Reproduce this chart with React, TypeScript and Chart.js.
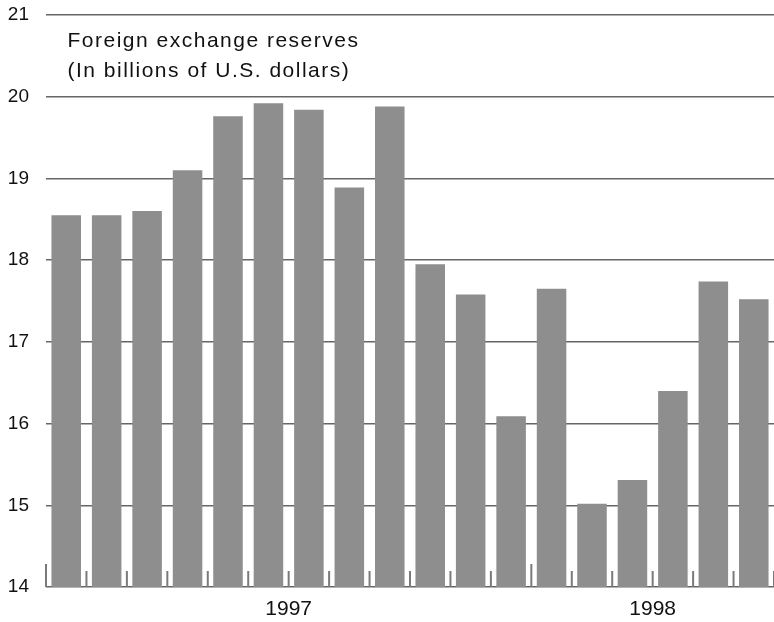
import React, { useEffect, useRef } from "react";
import { Chart, registerables } from "chart.js";

Chart.register(...registerables);

const months = [
  "Jan 1997", "Feb 1997", "Mar 1997", "Apr 1997", "May 1997", "Jun 1997",
  "Jul 1997", "Aug 1997", "Sep 1997", "Oct 1997", "Nov 1997", "Dec 1997",
  "Jan 1998", "Feb 1998", "Mar 1998", "Apr 1998", "May 1998", "Jun 1998",
];
const reserves = [
  18.55, 18.55, 18.6, 19.1, 19.76, 19.92, 19.84, 18.89, 19.88,
  17.95, 17.58, 16.09, 17.65, 15.02, 15.31, 16.4, 17.74, 17.52,
];
const yearLabels = ["1997", "1998"];
const yearStarts = [0, 12];
const yearCounts = [12, 6];
const titleLines = ["Foreign exchange reserves", "(In billions of U.S. dollars)"];
const yMin = 14;
const yMax = 21;

const FONT = "'Liberation Sans', Arial, Helvetica, sans-serif";

const decorPlugin = {
  id: "decor",
  afterDatasetsDraw(chart: any) {
    const { ctx, chartArea } = chart;
    const xs = chart.scales.x;
    const p0 = xs.getPixelForValue(0);
    const slot = xs.getPixelForValue(1) - p0;
    const start = p0 - slot / 2;
    const bottom = chartArea.bottom;
    ctx.save();
    // tick marks between bars
    ctx.strokeStyle = "#7a7a7a";
    ctx.lineWidth = 2;
    for (let i = 0; i <= months.length; i++) {
      const x = start + i * slot;
      const long = yearStarts.includes(i);
      const len = long ? 23 : 16;
      ctx.beginPath();
      ctx.moveTo(x, bottom);
      ctx.lineTo(x, bottom - len);
      ctx.stroke();
    }
    // year labels
    ctx.fillStyle = "#111";
    ctx.font = `21px ${FONT}`;
    ctx.textAlign = "center";
    ctx.textBaseline = "middle";
    yearLabels.forEach((lab, k) => {
      const a = start + yearStarts[k] * slot;
      const b = start + (yearStarts[k] + yearCounts[k]) * slot;
      ctx.fillText(lab, (a + b) / 2, bottom + 22);
    });
    // title
    ctx.textAlign = "left";
    ctx.textBaseline = "alphabetic";
    ctx.font = `21px ${FONT}`;
    try {
      (ctx as any).letterSpacing = "1.5px";
    } catch (e) {}
    titleLines.forEach((t, k) => {
      ctx.fillText(t, chartArea.left + 21.5, chartArea.top + 32.3 + k * 29.5);
    });
    ctx.restore();
  },
};

export default function App() {
  const ref = useRef<HTMLCanvasElement>(null);
  useEffect(() => {
    if (!ref.current) return;
    const chart = new Chart(ref.current, {
      type: "bar",
      data: {
        labels: months,
        datasets: [
          {
            data: reserves,
            backgroundColor: "#8e8e8e",
            borderWidth: 0,
            barPercentage: 0.73,
            categoryPercentage: 1,
          },
        ],
      },
      options: {
        animation: false,
        responsive: true,
        maintainAspectRatio: false,
        layout: { padding: { top: 15, right: 0, left: 0, bottom: 0 } },
        plugins: {
          legend: { display: false },
          tooltip: { enabled: false },
          title: { display: false },
        },
        scales: {
          x: {
            grid: { display: false },
            border: { display: false },
            ticks: { display: false },
            afterFit: (s: any) => {
              s.height = 35;
              s.paddingLeft = 0;
              s.paddingRight = 0;
            },
          },
          y: {
            min: yMin,
            max: yMax,
            border: { display: false },
            grid: { color: "#666666", lineWidth: 1.5, drawTicks: false },
            ticks: {
              stepSize: 1,
              padding: 17,
              color: "#111",
              font: { family: FONT, size: 19 },
            },
            afterFit: (s: any) => {
              s.width = 46;
              s.paddingTop = 0;
              s.paddingBottom = 0;
            },
          },
        },
      },
      plugins: [decorPlugin],
    });
    return () => chart.destroy();
  }, []);
  return (
    <div style={{ position: "absolute", left: 0, top: 0, width: 774, height: 622 }}>
      <canvas ref={ref} />
    </div>
  );
}
